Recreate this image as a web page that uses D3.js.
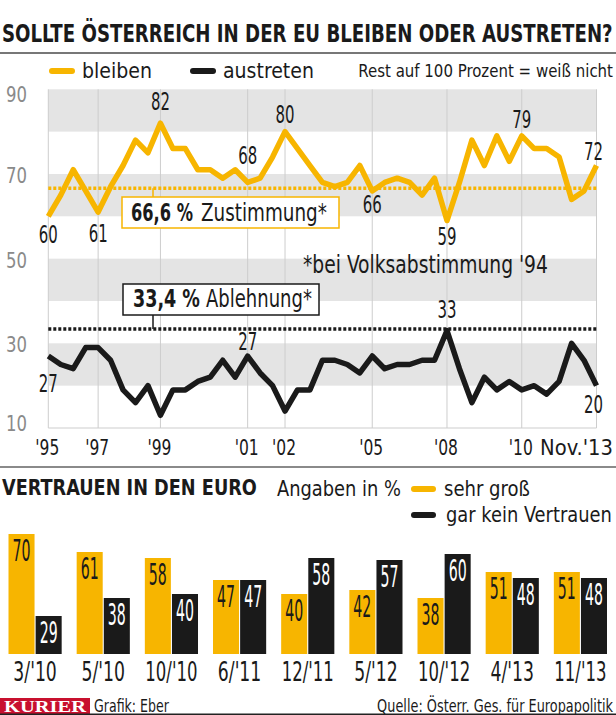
<!DOCTYPE html>
<html><head><meta charset="utf-8">
<script src="https://cdn.jsdelivr.net/npm/d3@7"></script>
<style>
html,body{margin:0;padding:0;background:#fff;}
svg{display:block;}
text{font-family:"Liberation Sans Narrow","DejaVu Sans Condensed",sans-serif;fill:#1a1a1a;}
</style></head><body>
<svg id="c" width="616" height="715"></svg>
<script>
// ---------- DATA ----------
const bleiben   = [60,65,71,66,61,67,72,78,75,82,76,76,71,71,69,71,68,69,74,80,76,72,68,67,68,72,66,68,69,68,65,69,59,68,78,72,79,73,79,76,76,74,64,66,72];
const austreten = [27,25,24,29,29,26,19,16,20,13,19,19,21,22,26,22,27,23,20,14,19,19,26,26,25,23,27,24,25,25,26,26,33,24,16,22,19,21,19,20,18,21,30,26,20];
const xTickIdx    = [0,4,9,16,19,26,32,38,44];
const xTickLabels = ["'95","'97","'99","'01","'02","'05","'08","'10","Nov.'13"];
const yTicks = [90,70,50,30,10];
const zustimmung94 = 66.6;
const ablehnung94  = 33.4;

const euroCats   = ["3/'10","5/'10","10/'10","6/'11","12/'11","5/'12","10/'12","4/'13","11/'13"];
const sehrGross  = [70,61,58,47,40,42,38,51,51];
const garKein    = [29,38,40,47,58,57,60,48,48];

// labelled points: series, index, vertical offset of label
const pointLabels = [
  {s:"b", i:0,  dy:27}, {s:"b", i:4,  dy:30}, {s:"b", i:9,  dy:-13},
  {s:"b", i:16, dy:-18},{s:"b", i:19, dy:-9}, {s:"b", i:26, dy:22},
  {s:"b", i:32, dy:24}, {s:"b", i:38, dy:-8}, {s:"b", i:44, dy:-6},
  {s:"a", i:0,  dy:36}, {s:"a", i:16, dy:-6}, {s:"a", i:32, dy:-13},
  {s:"a", i:44, dy:27}
];

// ---------- STYLE ----------
const YEL = "#f7b500", BLK = "#1a1a1a", GRAY = "#e4e4e4";
const svg = d3.select("#c");
svg.append("rect").attr("width",616).attr("height",715).attr("fill","#fff");

// text helper: optional target width -> horizontal scale via transform
function txt(x, y, s, o = {}) {
  const t = svg.append("text").text(s)
    .attr("font-size", o.size || 20)
    .attr("text-anchor", o.anchor || "start");
  if (o.bold) t.attr("font-weight", "bold");
  if (o.fill) t.style("fill", o.fill);
  if (o.family) t.style("font-family", o.family);
  if (o.w) {
    const L = t.node().getComputedTextLength();
    const k = L > 0 ? o.w / L : 1;
    t.attr("x", 0).attr("y", 0).attr("transform", `translate(${x},${y}) scale(${k},1)`);
  } else {
    t.attr("x", x).attr("y", y);
  }
  return t;
}

// ---------- HEADER ----------
txt(2, 42, "SOLLTE ÖSTERREICH IN DER EU BLEIBEN ODER AUSTRETEN?", {size:24, bold:true, w:611});
svg.append("line").attr("x1",0).attr("x2",616).attr("y1",53).attr("y2",53).attr("stroke","#777").attr("stroke-width",2);

svg.append("line").attr("x1",52).attr("x2",72).attr("y1",71).attr("y2",71).attr("stroke",YEL).attr("stroke-width",6).attr("stroke-linecap","round");
txt(82, 78, "bleiben", {size:22, w:70});
svg.append("line").attr("x1",193).attr("x2",213).attr("y1",71).attr("y2",71).attr("stroke",BLK).attr("stroke-width",6).attr("stroke-linecap","round");
txt(223, 78, "austreten", {size:22, w:91});
txt(613, 77, "Rest auf 100 Prozent = weiß nicht", {size:18, w:255, anchor:"end"});

// ---------- LINE CHART ----------
const x = d3.scaleLinear().domain([0, bleiben.length - 1]).range([48.3, 596.5]);
const y = d3.scaleLinear().domain([10, 90]).range([428, 89.3]);

d3.range(10, 90, 10).forEach((lo, k) => {
  if (k % 2 === 1) {
    svg.append("rect").attr("x", x(0)).attr("width", x(bleiben.length - 1) - x(0))
      .attr("y", y(lo + 10)).attr("height", y(lo) - y(lo + 10)).attr("fill", GRAY);
  }
});
svg.selectAll(".vg").data(xTickIdx).enter().append("line")
  .attr("x1", d => x(d)).attr("x2", d => x(d)).attr("y1", y(90)).attr("y2", y(10))
  .attr("stroke", "#cdcdcd").attr("stroke-width", 1);
svg.append("line").attr("x1", x(0)).attr("x2", x(bleiben.length-1)).attr("y1", y(10)).attr("y2", y(10))
  .attr("stroke", "#cdcdcd").attr("stroke-width", 1);

yTicks.forEach(v => {
  const dy = v === 90 ? 13 : (v === 10 ? 3 : 9);
  txt(27, y(v) + dy, String(v), {size:21, anchor:"end", fill:"#8a8a8a", w:21});
});
xTickIdx.forEach((d, k) => {
  const last = k === xTickIdx.length - 1;
  const s = xTickLabels[k];
  txt(last ? 613 : x(d) - 1, 455, s, {size:21, anchor: last ? "end" : "middle", w: last ? 73 : 24});
});

// reference lines
svg.append("line").attr("x1", x(0)).attr("x2", x(bleiben.length-1))
  .attr("y1", y(zustimmung94)).attr("y2", y(zustimmung94))
  .attr("stroke", YEL).attr("stroke-width", 3.5).attr("stroke-dasharray", "3 2");
svg.append("line").attr("x1", x(0)).attr("x2", x(bleiben.length-1))
  .attr("y1", y(ablehnung94)).attr("y2", y(ablehnung94))
  .attr("stroke", BLK).attr("stroke-width", 3.5).attr("stroke-dasharray", "3 2");

// annotation boxes
svg.append("line").attr("x1",153).attr("x2",153).attr("y1",y(zustimmung94)).attr("y2",197).attr("stroke",YEL).attr("stroke-width",1.5);
svg.append("rect").attr("x",122).attr("y",197).attr("width",217).attr("height",31).attr("fill","#fff").attr("stroke",YEL).attr("stroke-width",1.5);
txt(131, 221, "66,6 %", {size:25, bold:true, w:62});
txt(201, 221, "Zustimmung*", {size:25, w:126});

svg.append("line").attr("x1",153).attr("x2",153).attr("y1",315).attr("y2",y(ablehnung94)).attr("stroke",BLK).attr("stroke-width",1.5);
svg.append("rect").attr("x",123).attr("y",284).attr("width",196).attr("height",31).attr("fill","#fff").attr("stroke",BLK).attr("stroke-width",1.5);
txt(133, 307, "33,4 %", {size:25, bold:true, w:67});
txt(206, 307, "Ablehnung*", {size:25, w:106});

txt(303, 273, "*bei Volksabstimmung '94", {size:24, w:245});

const line = d3.line().x((d, i) => x(i)).y(d => y(d));
svg.append("path").datum(bleiben).attr("d", line).attr("fill","none")
  .attr("stroke", YEL).attr("stroke-width", 5.5).attr("stroke-linejoin","round");
svg.append("path").datum(austreten).attr("d", line).attr("fill","none")
  .attr("stroke", BLK).attr("stroke-width", 5.5).attr("stroke-linejoin","round");

pointLabels.forEach(p => {
  const v = (p.s === "b" ? bleiben : austreten)[p.i];
  const last = p.i === bleiben.length - 1;
  txt(x(p.i) - (last ? 3 : 0), y(v) + p.dy, String(v), {size:25, anchor:"middle", w:19});
});

// ---------- SECTION 2 ----------
svg.append("line").attr("x1",0).attr("x2",616).attr("y1",467).attr("y2",467).attr("stroke","#8a8a8a").attr("stroke-width",2);
txt(2, 495, "VERTRAUEN IN DEN EURO", {size:21, bold:true, w:255});
txt(277, 496, "Angaben in %", {size:21, w:124});
svg.append("line").attr("x1",414).attr("x2",433).attr("y1",489).attr("y2",489).attr("stroke",YEL).attr("stroke-width",6).attr("stroke-linecap","round");
txt(444, 496, "sehr groß", {size:21, w:86});
svg.append("line").attr("x1",414).attr("x2",433).attr("y1",515).attr("y2",515).attr("stroke",BLK).attr("stroke-width",6).attr("stroke-linecap","round");
txt(446, 522, "gar kein Vertrauen", {size:21, w:166});

const gx = d3.scaleBand().domain(euroCats).range([8.5, 607]).paddingInner(0.22).paddingOuter(0);
const sx = d3.scaleBand().domain(["s","g"]).range([0, gx.bandwidth()]).paddingInner(0.04);
const by = d3.scaleLinear().domain([10, 70]).range([654, 534]);

const series = [{k:"s", vals:sehrGross, fill:YEL, tc:"#1a1a1a"}, {k:"g", vals:garKein, fill:BLK, tc:"#fff"}];
series.forEach(se => {
  se.vals.forEach((v, i) => {
    const bx = gx(euroCats[i]) + sx(se.k);
    svg.append("rect").attr("x", bx).attr("y", by(v)).attr("width", sx.bandwidth())
      .attr("height", by(10) - by(v)).attr("fill", se.fill);
    txt(bx + sx.bandwidth()/2, by(v) + 27, String(v), {size:31, anchor:"middle", w:18, fill:se.tc});
  });
});
euroCats.forEach(c => {
  txt(gx(c) + gx.bandwidth()/2, 681, c, {size:26, anchor:"middle", w: c.length * 8.7});
});

// ---------- FOOTER ----------
svg.append("rect").attr("x",0).attr("y",698).attr("width",90).attr("height",16).attr("fill","#c8102e");
txt(4, 712, "KURIER", {size:17, bold:true, w:82, fill:"#fff", family:'"Liberation Serif","DejaVu Serif",serif'});
txt(94, 712, "Grafik: Eber", {size:17, w:75});
txt(613, 712, "Quelle: Österr. Ges. für Europapolitik", {size:17, w:236, anchor:"end"});
svg.append("line").attr("x1",0).attr("x2",616).attr("y1",714.3).attr("y2",714.3).attr("stroke","#222").attr("stroke-width",1.5);
</script>
</body></html>
